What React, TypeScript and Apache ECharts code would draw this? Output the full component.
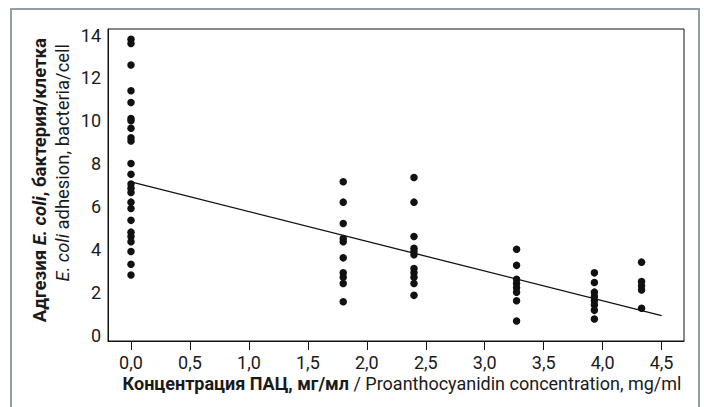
import React, { useEffect, useRef } from "react";
import * as echarts from "echarts";

// Concentration groups (mg/ml) and adhesion values (bacteria/cell)
const concentrations = [0, 1.8, 2.4, 3.27, 3.93, 4.33];
const adhesion0 = [13.8, 13.6, 12.6, 11.4, 10.85, 10.1, 10.0, 9.65, 9.2, 9.05, 8.0, 7.5, 7.05, 6.85, 6.65, 6.2, 5.9, 5.35, 4.8, 4.6, 4.35, 3.9, 3.3, 2.8];
const adhesion18 = [7.15, 6.2, 5.2, 4.5, 4.35, 3.6, 2.9, 2.7, 2.4, 1.55];
const adhesion24 = [7.35, 6.2, 4.6, 4.05, 3.9, 3.75, 3.1, 2.9, 2.7, 2.4, 1.85];
const adhesion327 = [4.0, 3.25, 2.6, 2.4, 2.2, 2.0, 1.6, 0.65];
const adhesion393 = [2.9, 2.45, 2.0, 1.8, 1.6, 1.4, 1.15, 0.75];
const adhesion433 = [3.4, 2.5, 2.3, 2.1, 1.25];
const groups = [adhesion0, adhesion18, adhesion24, adhesion327, adhesion393, adhesion433];

// Regression line
const lineX = [0, 4.5];
const lineY = [7.15, 0.9];

// Tick labels
const xTicks = [0, 0.5, 1, 1.5, 2, 2.5, 3, 3.5, 4, 4.5];
const yTicks = [0, 2, 4, 6, 8, 10, 12, 14];

const FONT = "Roboto, 'Liberation Sans', sans-serif";

export default function App() {
  const ref = useRef<HTMLDivElement>(null);
  useEffect(() => {
    if (!ref.current) return;
    const chart = echarts.init(ref.current, null, { renderer: "svg" });
    const points: number[][] = [];
    groups.forEach((g, i) => g.forEach((v) => points.push([concentrations[i], v])));
    chart.setOption({
      animation: false,
      grid: { left: 108, right: 20, top: 29, bottom: 66, show: true, borderColor: "#111", borderWidth: 1, containLabel: false },
      xAxis: {
        type: "value",
        min: -0.195,
        max: 4.69,
        axisLine: { show: true, onZero: false, lineStyle: { color: "#111" } },
        splitLine: { show: false },
        axisTick: { show: true, customValues: xTicks, length: 9, lineStyle: { color: "#111" } },
        axisLabel: {
          customValues: xTicks,
          margin: 12,
          color: "#1a1a1a",
          fontSize: 18,
          fontFamily: FONT,
          formatter: (v: number) => v.toFixed(1).replace(".", ","),
        },
      },
      yAxis: {
        type: "value",
        min: -0.28,
        max: 14.28,
        axisLine: { show: true, onZero: false, lineStyle: { color: "#111" } },
        splitLine: { show: false },
        axisTick: { show: false },
        axisLabel: {
          customValues: yTicks,
          margin: 7,
          color: "#1a1a1a",
          fontSize: 18,
          fontFamily: FONT,
        },
      },
      series: [
        {
          type: "line",
          data: lineX.map((x, i) => [x, lineY[i]]),
          showSymbol: false,
          lineStyle: { color: "#111", width: 1.3 },
          z: 1,
        },
        {
          type: "scatter",
          data: points,
          symbolSize: 7.5,
          itemStyle: { color: "#111", opacity: 1 },
          z: 2,
        },
      ],
      graphic: [
        {
          type: "rect",
          shape: { x: 11, y: 9, width: 688, height: 430 },
          style: { fill: "none", stroke: "#8f9ea9", lineWidth: 2 },
          silent: true,
        },
        {
          type: "text",
          x: 402,
          y: 383,
          style: {
            text: "{b|Концентрация ПАЦ, мг/мл}{n| / Proanthocyanidin concentration, mg/ml}",
            align: "center",
            verticalAlign: "middle",
            rich: {
              b: { fontFamily: FONT, fontSize: 18, fontWeight: "bold", fill: "#1a1a1a" },
              n: { fontFamily: FONT, fontSize: 18, fill: "#1a1a1a" },
            },
          },
        },
        {
          type: "text",
          x: 40,
          y: 38,
          rotation: Math.PI / 2,
          style: {
            text: "{b|Адгезия }{bi|E. coli}{b|, бактерия/клетка}",
            align: "right",
            verticalAlign: "middle",
            rich: {
              b: { fontFamily: FONT, fontSize: 18.6, fontWeight: "bold", fill: "#1a1a1a" },
              bi: { fontFamily: FONT, fontSize: 18.6, fontWeight: "bold", fontStyle: "italic", fill: "#1a1a1a" },
            },
          },
        },
        {
          type: "text",
          x: 62,
          y: 44,
          rotation: Math.PI / 2,
          style: {
            text: "{i|E. coli}{n| adhesion, bacteria/cell}",
            align: "right",
            verticalAlign: "middle",
            rich: {
              i: { fontFamily: FONT, fontSize: 18.4, fontStyle: "italic", fill: "#1a1a1a" },
              n: { fontFamily: FONT, fontSize: 18.4, fill: "#1a1a1a" },
            },
          },
        },
      ],
    });
    return () => chart.dispose();
  }, []);
  return <div ref={ref} style={{ width: 704, height: 407, position: "absolute", left: 0, top: 0 }} />;
}
